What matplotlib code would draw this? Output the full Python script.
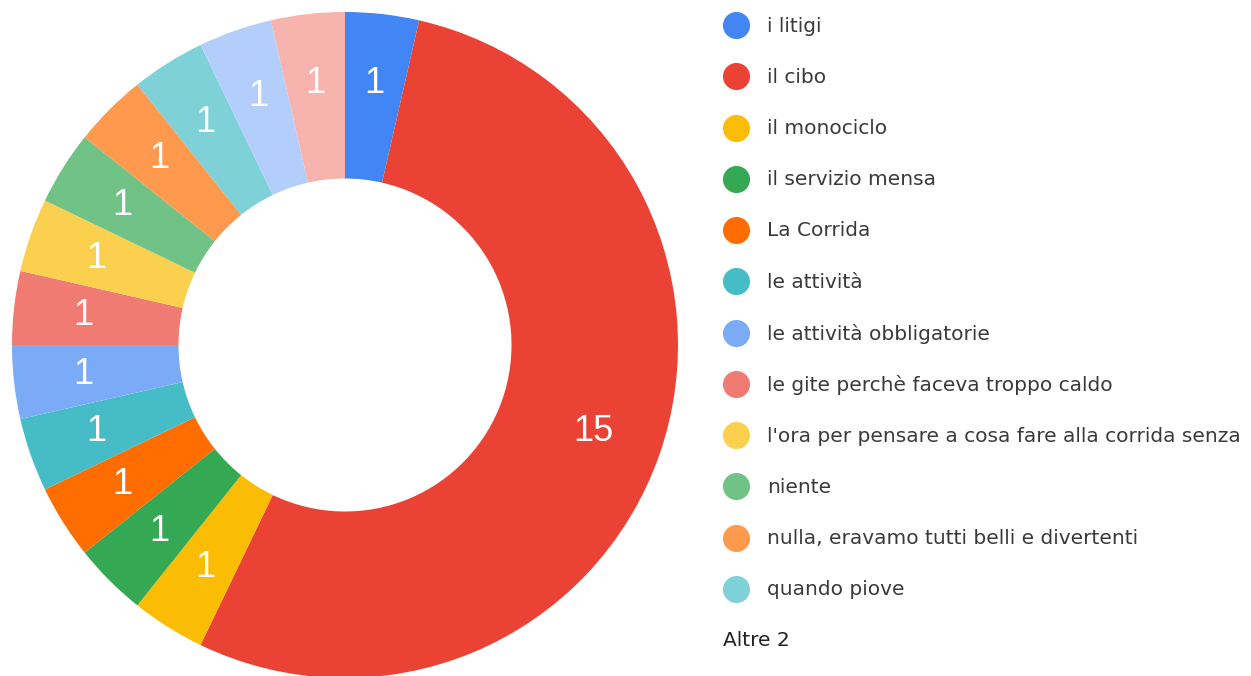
import matplotlib
matplotlib.use("Agg")
import matplotlib.pyplot as plt

labels = ["i litigi", "il cibo", "il monociclo", "il servizio mensa", "La Corrida",
          "le attività", "le attività obbligatorie", "le gite perchè faceva troppo caldo",
          "l'ora per pensare a cosa fare alla corrida senza", "niente",
          "nulla, eravamo tutti belli e divertenti", "quando piove",
          "altro 1", "altro 2"]
values = [1, 15, 1, 1, 1, 1, 1, 1, 1, 1, 1, 1, 1, 1]
colors = ["#4285F4", "#EA4335", "#FBBC04", "#34A853", "#FF6D01", "#46BDC6",
          "#7BAAF7", "#F07B72", "#FCD04F", "#71C287", "#FF994D", "#7ED1D7",
          "#B3CEFB", "#F7B4AE"]
legend_count = 12
other_label = "Altre 2"

W, H = 1251, 676
fig = plt.figure(figsize=(W / 100, H / 100), dpi=100)
plt.rcParams['font.family'] = ['Liberation Sans', 'DejaVu Sans']

cx, cy, R = 345, 345, 333
ax = fig.add_axes([(cx - R) / W, (H - cy - R) / H, 2 * R / W, 2 * R / H])
wedges, texts = ax.pie(values, colors=colors, startangle=90, counterclock=False,
                       radius=1.0, labels=[str(v) for v in values],
                       labeldistance=0.79,
                       wedgeprops=dict(width=0.5, linewidth=0),
                       textprops=dict(color="white", fontsize=26, ha="center", va="center"))
ax.set_xlim(-1, 1)
ax.set_ylim(-1, 1)
ax.set_aspect("equal")
ax.axis("off")

lax = fig.add_axes([0, 0, 1, 1])
lax.set_xlim(0, W)
lax.set_ylim(H, 0)
lax.axis("off")
y0, dy = 25, 51.25
for i in range(legend_count):
    y = y0 + i * dy
    lax.scatter([736], [y], s=380, color=colors[i], linewidths=0)
    lax.text(767, y + 1, labels[i], fontsize=14.5, color="#3a3a3a", va="center", ha="left",
             family="DejaVu Sans")
lax.text(723, y0 + legend_count * dy, other_label, fontsize=14.5, color="#222222",
         va="center", ha="left", family="DejaVu Sans")

fig.savefig("out.png", dpi=100)
